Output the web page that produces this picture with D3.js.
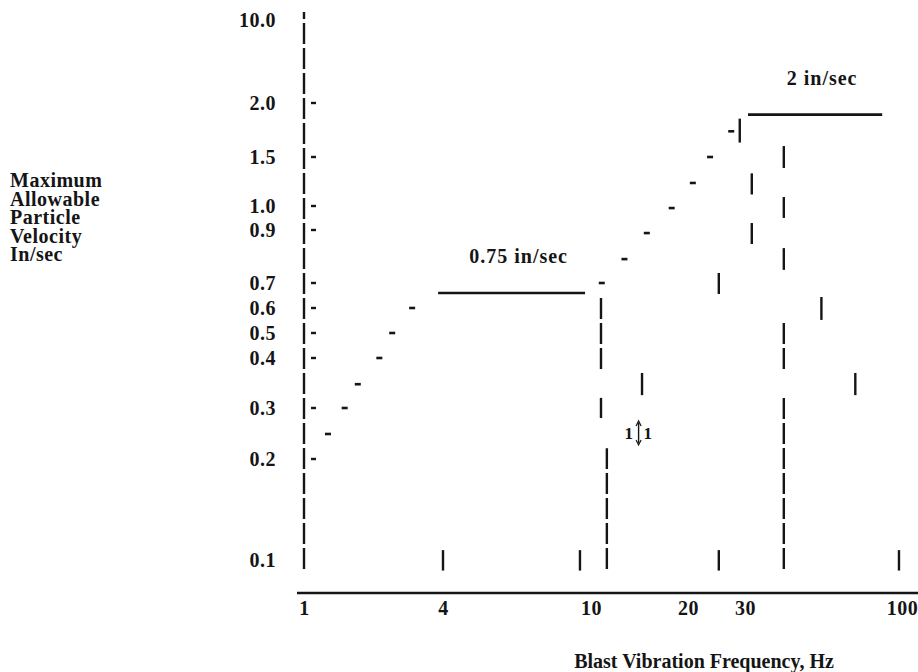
<!DOCTYPE html>
<html>
<head>
<meta charset="utf-8">
<script src="https://cdn.jsdelivr.net/npm/d3@7"></script>
<style>
  body { margin: 0; background: #fff; }
  svg text { font-family: "Liberation Serif", "Times New Roman", serif; font-weight: bold; fill: #151515; letter-spacing: 0.5px; }
</style>
</head>
<body>
<div id="chart"></div>
<script>
// tick labels
var freqTicks = [1, 4, 10, 20, 30, 100];
var velTicks = [0.1, 0.2, 0.3, 0.4, 0.5, 0.6, 0.7, 0.9, 1.0, 1.5, 2.0, 10.0];
// ticks that get the little dash next to the axis
var velDashTicks = [0.2, 0.3, 0.4, 0.5, 0.6, 0.7, 0.9, 1.0, 1.5, 2.0];

// rising limit drawn as short dashes: [Hz, in/sec]
var slopeDashes = [[1.27, 0.244], [1.50, 0.30], [1.71, 0.344], [2.12, 0.40], [2.41, 0.50], [2.94, 0.60],
  [10.8, 0.70], [12.7, 0.784], [14.9, 0.887], [17.8, 0.991], [20.7, 1.21], [23.4, 1.50], [27.2, 1.72]];

// flat limits: [from Hz, to Hz, in/sec]
var flatFrom = [3.81, 30.7];
var flatTo = [9.64, 85.9];
var flatVel = [0.658, 1.88];
var flatLabels = ["0.75 in/sec", "2 in/sec"];

// vertical pieces of the frequency cut-offs, as scanned: [Hz, top in/sec, bottom in/sec]
var cutSegments = [
  [10.74, 0.638, 0.373], [10.74, 0.318, 0.277], [11.2, 0.218, 0.093],
  [14.4, 0.367, 0.323], [28.9, 1.84, 1.62],
  [40.4, 1.59, 1.37], [31.6, 1.31, 1.10], [40.4, 1.077, 0.949], [31.6, 0.928, 0.842],
  [40.4, 0.826, 0.745], [24.9, 0.734, 0.654], [53.9, 0.642, 0.550], [40.4, 0.538, 0.373],
  [69.9, 0.367, 0.323], [40.4, 0.318, 0.092],
  [4.0, 0.107, 0.093], [9.34, 0.107, 0.093], [24.9, 0.107, 0.093], [97.7, 0.107, 0.093]
];

// slope note "1 : 1"
var slopeNote = [14.05, 0.246];

var yTitle = ["Maximum", "Allowable", "Particle", "Velocity", "In/sec"];
var xTitle = "Blast Vibration Frequency, Hz";

var width = 918, height = 672;

var svg = d3.select("#chart").append("svg")
    .attr("width", width)
    .attr("height", height)
    .attr("font-size", 20);

// the printed axes are hand spaced, so both scales go piecewise through the tick labels
var x = d3.scaleLog()
    .domain(freqTicks)
    .range([304, 443, 591, 688, 745, 902]);
var y = d3.scaleLog()
    .domain(velTicks)
    .range([560, 459, 408, 358, 333, 308, 283, 230, 206, 157, 103, 20]);

var ink = "#151515";
var period = 25, phase = 23;
function dashOffset(y0){ return ((y0 - phase) % period + period) % period; }

// y axis (dashed line)
var yTop = y(10) - 8, yBot = y(0.1) + 11;
svg.append("line")
    .attr("x1", x(1)).attr("x2", x(1))
    .attr("y1", yTop).attr("y2", yBot)
    .attr("stroke", ink).attr("stroke-width", 2.4)
    .attr("stroke-dasharray", "21,4")
    .attr("stroke-dashoffset", dashOffset(yTop));

svg.append("g")
    .attr("transform", `translate(${x(1)},0)`)
    .call(d3.axisLeft(y).tickValues(velTicks).tickSize(0).tickPadding(28).tickFormat(d3.format(".1f")))
    .call(g => g.select(".domain").remove())
    .selectAll("text").attr("font-size", 20).attr("font-family", null);

svg.append("g").selectAll("line")
    .data(velDashTicks)
    .enter().append("line")
    .attr("x1", x(1) + 7).attr("x2", x(1) + 12)
    .attr("y1", d => y(d)).attr("y2", d => y(d))
    .attr("stroke", ink).attr("stroke-width", 2.4);

// x axis
svg.append("line")
    .attr("x1", x(1) - 7).attr("x2", width)
    .attr("y1", 593).attr("y2", 593)
    .attr("stroke", ink).attr("stroke-width", 2.6);

svg.append("g")
    .attr("transform", "translate(0,593)")
    .call(d3.axisBottom(x).tickValues(freqTicks).tickSize(0).tickPadding(8).tickFormat(d3.format("d")))
    .call(g => g.select(".domain").remove())
    .selectAll("text").attr("font-size", 20).attr("font-family", null);

// titles
svg.append("g").selectAll("text")
    .data(yTitle)
    .enter().append("text")
    .attr("x", 10)
    .attr("y", (d, i) => 187 + i * 18.5)
    .text(d => d);

svg.append("text")
    .attr("x", 704).attr("y", 668)
    .attr("text-anchor", "middle")
    .style("letter-spacing", "0px")
    .text(xTitle);

// rising limit
svg.append("g").selectAll("line")
    .data(slopeDashes)
    .enter().append("line")
    .attr("x1", d => x(d[0]) - 3).attr("x2", d => x(d[0]) + 3)
    .attr("y1", d => y(d[1])).attr("y2", d => y(d[1]))
    .attr("stroke", ink).attr("stroke-width", 2.6);

// flat limits
var flats = d3.range(flatVel.length);
svg.append("g").selectAll("line")
    .data(flats)
    .enter().append("line")
    .attr("x1", i => x(flatFrom[i])).attr("x2", i => x(flatTo[i]))
    .attr("y1", i => y(flatVel[i])).attr("y2", i => y(flatVel[i]))
    .attr("stroke", ink).attr("stroke-width", 2.6);

svg.append("g").selectAll("text")
    .data(flats)
    .enter().append("text")
    .attr("x", i => (x(flatFrom[i]) + x(flatTo[i])) / 2 + 7)
    .attr("y", i => y(flatVel[i]) - 30)
    .attr("text-anchor", "middle")
    .style("letter-spacing", "1px")
    .text(i => flatLabels[i]);

// frequency cut-offs
svg.append("g").selectAll("line")
    .data(cutSegments)
    .enter().append("line")
    .attr("x1", d => x(d[0])).attr("x2", d => x(d[0]))
    .attr("y1", d => y(d[1])).attr("y2", d => y(d[2]))
    .attr("stroke", ink).attr("stroke-width", 2.4)
    .attr("stroke-dasharray", d => (y(d[2]) - y(d[1]) > 30 ? "21,4" : null))
    .attr("stroke-dashoffset", d => dashOffset(y(d[1])));

// 1:1 note
var nx = x(slopeNote[0]), ny = y(slopeNote[1]);
svg.append("line")
    .attr("x1", nx).attr("x2", nx)
    .attr("y1", ny - 10).attr("y2", ny + 10)
    .attr("stroke", ink).attr("stroke-width", 1.4);
svg.append("path")
    .attr("d", `M${nx - 2.5},${ny - 7}L${nx},${ny - 12}L${nx + 2.5},${ny - 7}M${nx - 2.5},${ny + 7}L${nx},${ny + 12}L${nx + 2.5},${ny + 7}`)
    .attr("fill", "none").attr("stroke", ink).attr("stroke-width", 1.2);
svg.append("text").attr("x", nx - 5).attr("y", ny + 6).attr("text-anchor", "end").attr("font-size", 17).text("1");
svg.append("text").attr("x", nx + 5).attr("y", ny + 6).attr("font-size", 17).text("1");
</script>
</body>
</html>
